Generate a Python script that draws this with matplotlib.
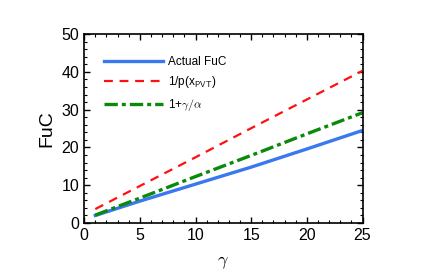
import numpy as np
import matplotlib
matplotlib.use("Agg")
import matplotlib.pyplot as plt
from matplotlib.ticker import MultipleLocator

plt.rcParams['font.family'] = ['Liberation Sans', 'DejaVu Sans']
plt.rcParams['mathtext.fontset'] = 'cm'

gamma = [1, 5, 10, 15, 20, 25]
actual_fuc = [2.0, 5.8, 10.3, 14.8, 19.6, 24.5]
inv_p = [3.7, 9.8, 17.4, 25.1, 32.7, 40.3]
one_plus = [2.1, 6.6, 12.3, 17.9, 23.6, 29.2]

fig = plt.figure(figsize=(4.25, 2.73), dpi=100)
ax = fig.add_axes([0.198, 0.183, 0.655, 0.692])

ax.plot(gamma, actual_fuc, color='#3a78f0', lw=2.4, label='Actual FuC')
ax.plot(gamma, inv_p, color='#ff1010', lw=1.6, ls=(0, (4, 3)), label='1/p(x$_{\\mathsf{PVT}}$)')
ax.plot(gamma, one_plus, color='#0a8a0a', lw=2.4, ls=(0, (4, 1.2, 1.2, 1.2)), label=r'1+$\gamma/\alpha$')

ax.set_xlim(0, 25)
ax.set_ylim(0, 50)
ax.xaxis.set_major_locator(MultipleLocator(5))
ax.xaxis.set_minor_locator(MultipleLocator(1))
ax.yaxis.set_major_locator(MultipleLocator(10))
ax.yaxis.set_minor_locator(MultipleLocator(2))
ax.tick_params(which='both', direction='in', top=True, right=True, labelsize=11.5)
ax.tick_params(which='major', length=4, width=1)
ax.tick_params(which='minor', length=2, width=0.8)
for s in ax.spines.values():
    s.set_linewidth(1.2)

ax.set_xlabel(r'$\gamma$', fontsize=13, labelpad=8)
ax.set_ylabel('FuC', fontsize=14)

ax.legend(loc='upper left', bbox_to_anchor=(0.055, 0.91), frameon=False,
          fontsize=8.5, handlelength=5.0, handletextpad=0.4,
          borderaxespad=0, labelspacing=0.55)

fig.savefig('out.png', dpi=100)
